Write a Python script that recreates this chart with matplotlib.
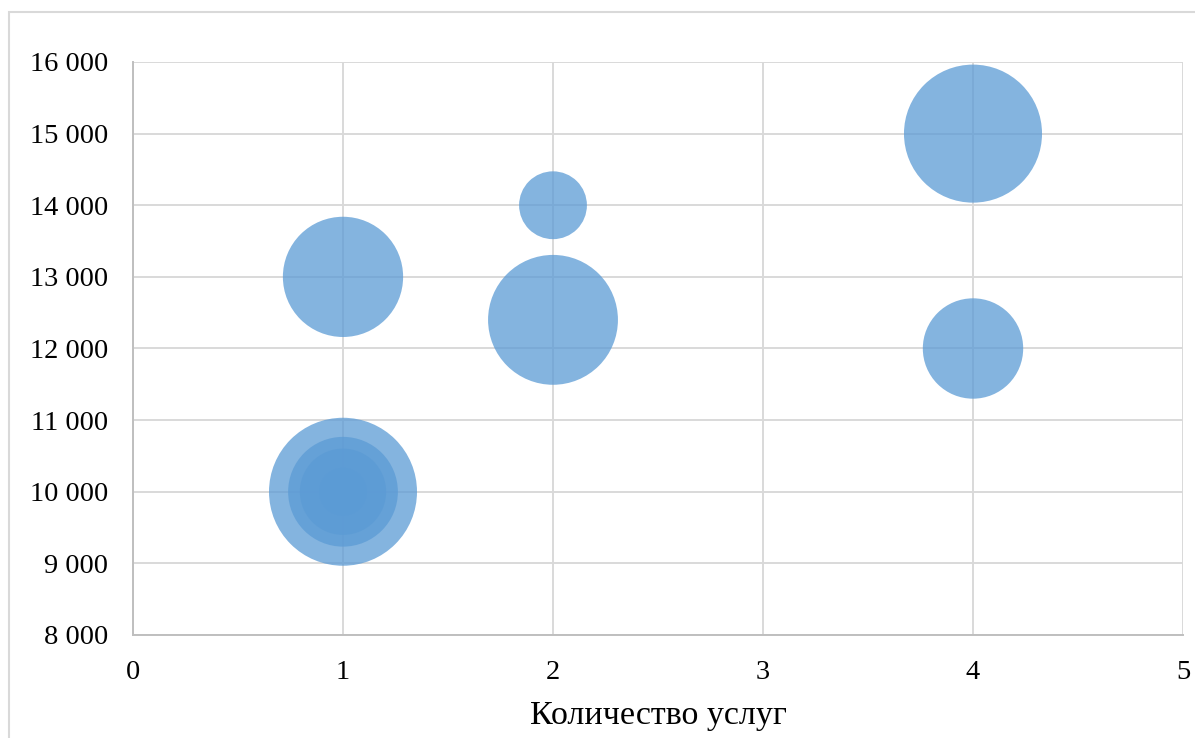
import matplotlib.pyplot as plt
from matplotlib.patches import Rectangle
from matplotlib.ticker import FuncFormatter
import numpy as np

plt.rcParams['font.family'] = ['Liberation Serif', 'DejaVu Serif']

# bubble data: number of services, price, bubble size
services = [1, 1, 1, 1, 1, 2, 2, 4, 4]
prices = [10000, 10000, 10000, 10000, 13000, 14000, 12400, 15000, 12000]
sizes = [100, 55, 34, 10.5, 66, 21, 77, 87, 46]

x_ticks = [0, 1, 2, 3, 4, 5]
y_ticks = [8000, 9000, 10000, 11000, 12000, 13000, 14000, 15000, 16000]

fig = plt.figure(figsize=(11.95, 7.38), dpi=100)
W, H = 1195, 738

# chart area border (cropped on right and bottom)
fig.patches.append(Rectangle((8.5 / W, -0.1), 1.2, 1 - 11.5 / H + 0.1,
                             transform=fig.transFigure, fill=False,
                             edgecolor='#d9d9d9', linewidth=1.5))

ax = fig.add_axes([133 / W, 1 - 635 / H, (1183 - 133) / W, (635 - 62) / H])

max_r_pt = 74 * 0.72
s = np.array(sizes) / max(sizes) * (2 * max_r_pt) ** 2
order = np.argsort(sizes)[::-1]
ax.scatter(np.array(services)[order], np.array(prices)[order], s=s[order],
           color='#5b9bd5', alpha=0.75, linewidths=0, zorder=3)

ax.set_xlim(0, 5)
ax.set_ylim(8000, 16000)
ax.set_xticks(x_ticks)
ax.set_yticks(y_ticks)
ax.yaxis.set_major_formatter(FuncFormatter(lambda v, p: f'{int(v):,}'.replace(',', ' ')))
ax.grid(True, color='#d9d9d9', linewidth=1.4, zorder=0)
ax.set_axisbelow(True)
for side in ['top', 'right']:
    ax.spines[side].set_visible(False)
for side in ['left', 'bottom']:
    ax.spines[side].set_color('#bfbfbf')
    ax.spines[side].set_linewidth(1.4)
ax.tick_params(length=0, labelsize=20.5, colors='black')
ax.tick_params(axis='y', pad=18)
ax.tick_params(axis='x', pad=18)
ax.set_xlabel('Количество услуг', fontsize=24.5, labelpad=11)

fig.savefig('out.png', dpi=100)
